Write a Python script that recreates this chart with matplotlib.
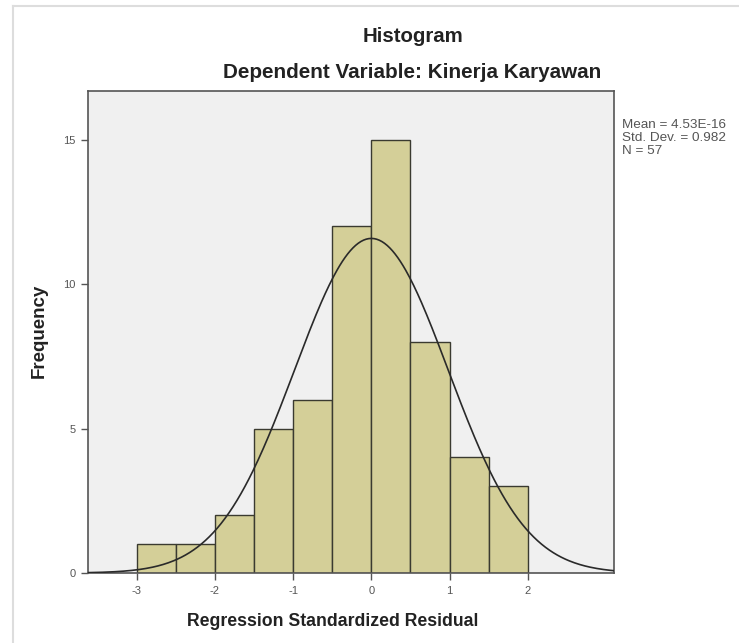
import numpy as np
import matplotlib.pyplot as plt
from matplotlib.lines import Line2D

# histogram bins (bin edges) and counts
bin_edges = [-3.0, -2.5, -2.0, -1.5, -1.0, -0.5, 0.0, 0.5, 1.0, 1.5, 2.0]
counts = [1, 1, 2, 5, 6, 12, 15, 8, 4, 3]

# summary statistics printed beside the chart
mean = 4.53e-16
std_dev = 0.982
n_obs = 57

x_ticks = [-3, -2, -1, 0, 1, 2]
y_ticks = [0, 5, 10, 15]

plt.rcParams["font.family"] = ["Liberation Sans", "DejaVu Sans"]
plt.rcParams["axes.unicode_minus"] = False

fig = plt.figure(figsize=(7.39, 6.43), dpi=100)
ax = fig.add_axes([88 / 739, 1 - 573 / 643, (614 - 88) / 739, (573 - 91) / 643])
ax.set_facecolor("#f0f0f0")

edges = np.asarray(bin_edges)
widths = np.diff(edges)
ax.bar(edges[:-1], counts, width=widths, align="edge",
       color="#d4cf98", edgecolor="#3a3a30", linewidth=1.0, zorder=2)

# fitted normal curve
bw = widths[0]
xs = np.linspace(-3.62, 3.10, 400)
ys = n_obs * bw / (std_dev * np.sqrt(2 * np.pi)) * np.exp(-0.5 * ((xs - mean) / std_dev) ** 2)
ax.plot(xs, ys, color="#2a2a2a", linewidth=1.2, zorder=3)

ax.set_xlim(-3.62, 3.10)
ax.set_ylim(0, 16.68)
ax.set_xticks(x_ticks)
ax.set_yticks(y_ticks)
ax.tick_params(direction="out", length=5, width=1.0, color="#555555",
               labelsize=8, labelcolor="#555555", pad=4)
for side in ["left", "bottom", "top", "right"]:
    ax.spines[side].set_color("#555555")
    ax.spines[side].set_linewidth(1.2)

fig.text(39 / 739, 1 - 331 / 643, "Frequency", ha="center", va="center", rotation=90,
         fontsize=13.5, fontweight="bold", color="#222222")
fig.text(333 / 739, 1 - 621 / 643, "Regression Standardized Residual", ha="center",
         va="center", fontsize=12.7, fontweight="bold", color="#222222")
fig.text(413 / 739, 1 - 37 / 643, "Histogram", ha="center", va="center",
         fontsize=14.7, fontweight="bold", color="#222222")
fig.text(412 / 739, 1 - 73 / 643, "Dependent Variable: Kinerja Karyawan", ha="center",
         va="center", fontsize=14.9, fontweight="bold", color="#222222")

fig.text(622 / 739, 1 - 119 / 643,
         f"Mean = {mean:.2E}\nStd. Dev. = {std_dev}\nN = {n_obs}",
         ha="left", va="top", fontsize=9.7, color="#555555", linespacing=1.12)

# light frame lines on left and top edges of the image
fig.add_artist(Line2D([13 / 739, 13 / 739], [0, 1 - 6 / 643], transform=fig.transFigure,
                      color="#dddddd", linewidth=1.5))
fig.add_artist(Line2D([13 / 739, 1], [1 - 6 / 643, 1 - 6 / 643], transform=fig.transFigure,
                      color="#dddddd", linewidth=1.5))

fig.savefig("out.png", dpi=100)
